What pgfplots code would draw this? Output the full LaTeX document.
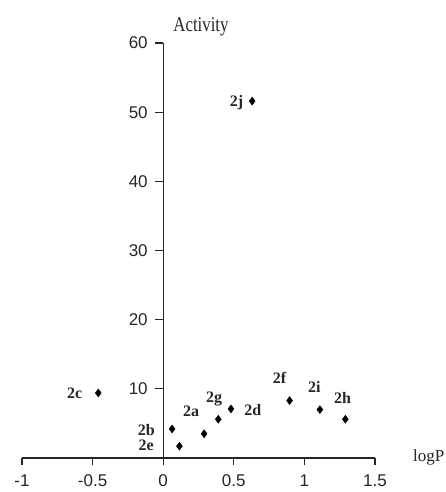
\documentclass[border=0pt]{standalone}
\usepackage{fontspec}
\setmainfont{Liberation Serif}
\newfontfamily\arialf{Liberation Sans}
\usepackage{pgfplots}
\pgfplotsset{compat=1.18}
\begin{document}
\begin{tikzpicture}
\useasboundingbox (-22pt,-34pt) rectangle (424pt,458pt);
\begin{axis}[
  scale only axis,
  width=353pt, height=415pt,
  at={(0pt,0pt)}, anchor=south west,
  xmin=-1, xmax=1.5, ymin=0, ymax=60,
  axis x line=bottom,
  axis y line=middle,
  axis line style={-, line width=1.3pt, black!85},
  xtick={-1,-0.5,0,0.5,1,1.5},
  ytick={10,20,30,40,50,60},
  xticklabels={-1,-0.5,0,0.5,1,1.5},
  yticklabels={10,20,30,40,50,60},
  tick align=outside,
  major tick length=7pt,
  tick style={line width=1.3pt, black!85},
  ticklabel style={font=\arialf\fontsize{17}{20}\selectfont, text=black!85},
  xticklabel style={yshift=-6pt},
  yticklabel style={xshift=-5pt},
  clip=false,
]
\addplot[only marks, mark=diamond*, mark size=4pt, black] coordinates {
  (0.63,51.6)
  (-0.46,9.4)
  (0.063,4.2)
  (0.115,1.7)
  (0.29,3.5)
  (0.39,5.6)
  (0.48,7.1)
  (0.895,8.3)
  (1.11,7.0)
  (1.29,5.6)
};
\begin{scope}[line width=1.3pt, black!85]
\draw (axis cs:-1,0) -- ++(0pt,-6pt);
\draw (axis cs:-0.5,0) -- ++(0pt,-6pt);
\draw (axis cs:0,0) -- ++(0pt,-6pt);
\draw (axis cs:0.5,0) -- ++(0pt,-6pt);
\draw (axis cs:1,0) -- ++(0pt,-6pt);
\draw (axis cs:1.5,0) -- ++(0pt,-6pt);
\draw (axis cs:0,10) -- ++(-8pt,0pt);
\draw (axis cs:0,20) -- ++(-8pt,0pt);
\draw (axis cs:0,30) -- ++(-8pt,0pt);
\draw (axis cs:0,40) -- ++(-8pt,0pt);
\draw (axis cs:0,50) -- ++(-8pt,0pt);
\draw (axis cs:0,60) -- ++(-8pt,0pt);
\end{scope}
\begin{scope}[every node/.style={font=\bfseries\fontsize{16}{18}\selectfont, text=black!85}]
\node at (axis cs:0.52,51.4) {2j};
\node at (axis cs:-0.627,9.4) {2c};
\node at (axis cs:-0.12,4.06) {2b};
\node at (axis cs:-0.12,1.9) {2e};
\node at (axis cs:0.197,6.7) {2a};
\node at (axis cs:0.36,8.55) {2g};
\node at (axis cs:0.634,7.0) {2d};
\node at (axis cs:0.824,11.6) {2f};
\node at (axis cs:1.07,10.3) {2i};
\node at (axis cs:1.27,8.7) {2h};
\end{scope}
\end{axis}
\node[font=\fontsize{21}{24}\selectfont, text=black!85] at (179pt,431pt) {\scalebox{0.8}[1]{Activity}};
\node[font=\fontsize{17}{20}\selectfont, anchor=base west, inner sep=0pt, text=black!85] at (391pt,-3pt) {logP};
\end{tikzpicture}
\end{document}
